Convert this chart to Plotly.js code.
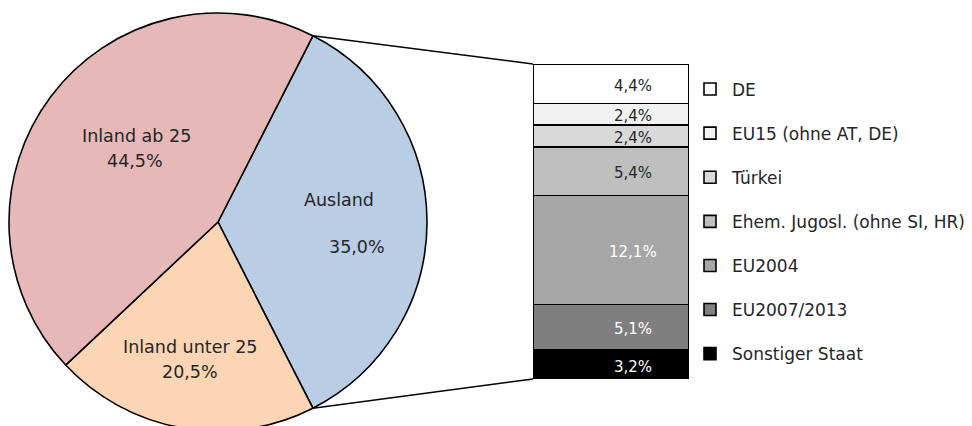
<!DOCTYPE html>
<html>
<head>
<meta charset="utf-8">
<script src="https://cdn.plot.ly/plotly-3.0.1.min.js"></script>
<style>html,body{margin:0;padding:0;overflow:hidden;background:#fff;}#chart{width:972px;height:440px;}</style>
</head>
<body>
<div id="chart"></div>
<script>
// ---- data ----
var pieLabels = ["Ausland", "Inland unter 25", "Inland ab 25"];
var pieValues = [35.0, 20.5, 44.5];
var pieColors = ["#b9cde5", "#fcd5b5", "#e6b9b8"];

var barNames = ["DE", "EU15 (ohne AT, DE)", "Türkei", "Ehem. Jugosl. (ohne SI, HR)", "EU2004", "EU2007/2013", "Sonstiger Staat"];
var barValues = [4.4, 2.4, 2.4, 5.4, 12.1, 5.1, 3.2];
var barColors = ["#ffffff", "#f2f2f2", "#d9d9d9", "#bfbfbf", "#a6a6a6", "#7f7f7f", "#000000"];
var barTextColors = ["#262626", "#262626", "#262626", "#262626", "#ffffff", "#ffffff", "#ffffff"];

// ---- layout helpers (pixels) ----
var W = 972, H = 440;
function px(x){ return x / W; }
function py(y){ return 1 - y / H; }
function fmt(v){ return v.toFixed(1).replace('.', ',') + '%'; }

var FONT = "DejaVu Sans";
var TXT = '#262626';
var pieBox = {x0: 9, x1: 427, y0: 13, y1: 431};
var barBox = {x0: 533, x1: 689, y0: 64, y1: 379};

var traces = [];
traces.push({
  type: 'pie', labels: pieLabels, values: pieValues, sort: false,
  direction: 'clockwise', rotation: 90 - pieValues[0] / 100 * 180,
  marker: {colors: pieColors, line: {color: '#000', width: 1.6}},
  textinfo: 'none', hoverinfo: 'label+percent', showlegend: false,
  domain: {x: [px(pieBox.x0), px(pieBox.x1)], y: [py(pieBox.y1), py(pieBox.y0)]}
});

var total = 0;
for (var i = 0; i < barValues.length; i++) total += barValues[i];

// stack bottom-up: last category at bottom
for (var j = barNames.length - 1; j >= 0; j--) {
  traces.push({
    type: 'bar', x: [0], y: [barValues[j]], name: barNames[j], width: 1,
    marker: {color: barColors[j], line: {color: '#000', width: 1.6}},
    legendgroup: 'g' + j, legendrank: j + 1, hoverinfo: 'name+y', xaxis: 'x', yaxis: 'y'
  });
}

var annotations = [];
// bar labels
var cum = 0;
for (var k = barNames.length - 1; k >= 0; k--) {
  var mid = cum + barValues[k] / 2;
  cum += barValues[k];
  annotations.push({x: 0.14, y: mid, xref: 'x', yref: 'y', xanchor: 'center', yanchor: 'middle',
    text: fmt(barValues[k]), showarrow: false,
    yshift: -2, font: {family: FONT, size: 15, color: barTextColors[k]}});
}
// pie labels
function pieText(x, y, t){
  annotations.push({x: px(x), y: py(y), xref: 'paper', yref: 'paper', xanchor: 'center', yanchor: 'middle',
    text: t, showarrow: false, font: {family: FONT, size: 17.5, color: TXT}});
}
pieText(136, 136, pieLabels[2]);
pieText(135, 161, fmt(pieValues[2]));
pieText(190, 347, pieLabels[1]);
pieText(190, 372, fmt(pieValues[1]));
pieText(339, 200, pieLabels[0]);
pieText(357, 247, fmt(pieValues[0]));

// connector lines from Ausland slice edges to bar corners
var cx = (pieBox.x0 + pieBox.x1) / 2, cy = (pieBox.y0 + pieBox.y1) / 2, r = (pieBox.x1 - pieBox.x0) / 2;
var half = pieValues[0] / 100 * Math.PI;
var shapes = [
  {type: 'line', xref: 'paper', yref: 'paper', x0: px(cx + r * Math.cos(half)), y0: py(cy - r * Math.sin(half)),
    x1: px(barBox.x0), y1: py(barBox.y0), line: {color: '#000', width: 1.4}},
  {type: 'line', xref: 'paper', yref: 'paper', x0: px(cx + r * Math.cos(half)), y0: py(cy + r * Math.sin(half)),
    x1: px(barBox.x0), y1: py(barBox.y1), line: {color: '#000', width: 1.4}}
];

var layout = {
  width: W, height: H, margin: {l: 0, r: 0, t: 0, b: 0},
  paper_bgcolor: '#fff', plot_bgcolor: 'rgba(0,0,0,0)',
  barmode: 'stack', bargap: 0,
  font: {family: FONT, size: 15, color: TXT},
  xaxis: {domain: [px(barBox.x0), px(barBox.x1)], range: [-0.5, 0.5], visible: false, fixedrange: true},
  yaxis: {domain: [py(barBox.y1), py(barBox.y0)], range: [0, total], visible: false, fixedrange: true},
  showlegend: true,
  legend: {x: px(688), y: py(71.5), xanchor: 'left', yanchor: 'top', traceorder: 'grouped',
    tracegroupgap: 19, itemwidth: 34, font: {family: FONT, size: 17, color: TXT}, bgcolor: 'rgba(0,0,0,0)'},
  annotations: annotations, shapes: shapes
};

Plotly.newPlot('chart', traces, layout, {displayModeBar: false, staticPlot: true});
</script>
</body>
</html>
